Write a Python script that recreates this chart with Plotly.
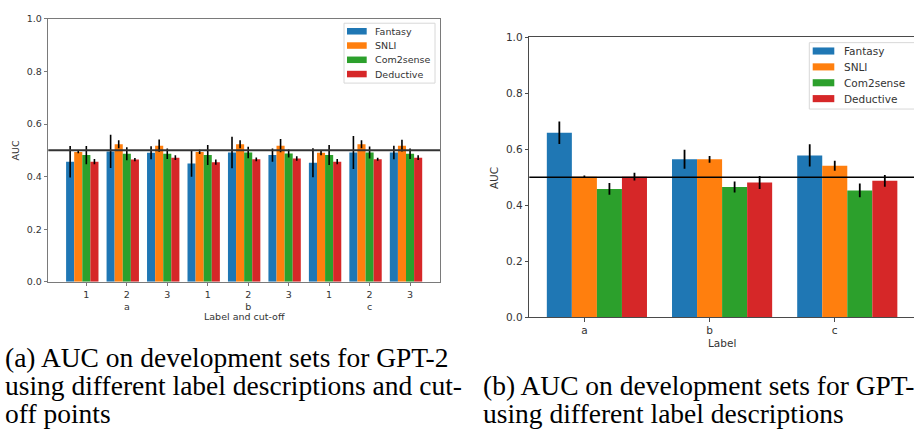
import plotly.graph_objects as go

# ---- data -------------------------------------------------------------
series = ["Fantasy", "SNLI", "Com2sense", "Deductive"]
colors = ["#1f77b4", "#ff7f0e", "#2ca02c", "#d62728"]

label_names = ["a", "b", "c"]
cutoffs = ["1", "2", "3"]

# GPT-2: every label description (a, b, c) crossed with every cut-off (1, 2, 3)
gpt2_fantasy = [0.457, 0.496, 0.491, 0.450, 0.492, 0.482, 0.453, 0.492, 0.492]
gpt2_fantasy_err = [0.060, 0.063, 0.025, 0.050, 0.060, 0.025, 0.055, 0.063, 0.026]
gpt2_snli = [0.494, 0.523, 0.518, 0.494, 0.523, 0.518, 0.491, 0.523, 0.518]
gpt2_snli_err = [0.005, 0.015, 0.023, 0.008, 0.015, 0.025, 0.010, 0.015, 0.022]
gpt2_com2sense = [0.482, 0.487, 0.487, 0.482, 0.492, 0.488, 0.482, 0.492, 0.487]
gpt2_com2sense_err = [0.035, 0.025, 0.020, 0.038, 0.022, 0.015, 0.038, 0.023, 0.020]
gpt2_deductive = [0.457, 0.465, 0.472, 0.455, 0.466, 0.469, 0.457, 0.466, 0.472]
gpt2_deductive_err = [0.010, 0.006, 0.009, 0.010, 0.007, 0.009, 0.010, 0.006, 0.009]

# GPT-3: one value per label description
gpt3_fantasy = [0.659, 0.564, 0.578]
gpt3_fantasy_err = [0.040, 0.034, 0.040]
gpt3_snli = [0.502, 0.564, 0.541]
gpt3_snli_err = [0.004, 0.012, 0.018]
gpt3_com2sense = [0.458, 0.465, 0.453]
gpt3_com2sense_err = [0.021, 0.020, 0.025]
gpt3_deductive = [0.502, 0.481, 0.487]
gpt3_deductive_err = [0.014, 0.023, 0.021]

chance_level = 0.5

y_ticks = [0.0, 0.2, 0.4, 0.6, 0.8, 1.0]

caption_a = ["(a) AUC on development sets for GPT-2",
             "using different label descriptions and cut-",
             "off points"]
caption_b = ["(b) AUC on development sets for GPT-3",
             "using different label descriptions"]

# ---- layout helpers ---------------------------------------------------
W, H = 914, 430


def px(x):
    return x / W


def py(y):
    return 1 - y / H


SANS = "DejaVu Sans"
SERIF = "Liberation Serif"

gpt2_vals = [gpt2_fantasy, gpt2_snli, gpt2_com2sense, gpt2_deductive]
gpt2_errs = [gpt2_fantasy_err, gpt2_snli_err, gpt2_com2sense_err, gpt2_deductive_err]
gpt3_vals = [gpt3_fantasy, gpt3_snli, gpt3_com2sense, gpt3_deductive]
gpt3_errs = [gpt3_fantasy_err, gpt3_snli_err, gpt3_com2sense_err, gpt3_deductive_err]

gpt2_x = list(range(len(label_names) * len(cutoffs)))
gpt3_x = list(range(len(label_names)))

fig = go.Figure()

for name, col, vals, errs in zip(series, colors, gpt2_vals, gpt2_errs):
    fig.add_trace(go.Bar(
        x=gpt2_x, y=vals, name=name, marker=dict(color=col, line=dict(width=0)),
        error_y=dict(type="data", array=errs, color="black", thickness=1.6, width=0),
        xaxis="x", yaxis="y", showlegend=False, offsetgroup=name,
    ))

for name, col, vals, errs in zip(series, colors, gpt3_vals, gpt3_errs):
    fig.add_trace(go.Bar(
        x=gpt3_x, y=vals, name=name, marker=dict(color=col, line=dict(width=0)),
        error_y=dict(type="data", array=errs, color="black", thickness=1.8, width=0),
        xaxis="x2", yaxis="y2", showlegend=False, offsetgroup=name,
    ))

# tick labels: cut-off under each green bar, label description under the middle cut-off
gpt2_tickvals = [i + 0.1 for i in gpt2_x]
gpt2_ticktext = []
for lab in label_names:
    for c in cutoffs:
        gpt2_ticktext.append(c + ("<br>" + lab if c == cutoffs[len(cutoffs) // 2] else ""))
gpt3_tickvals = [i - 0.1 for i in gpt3_x]

left_axis_col = "#7a7a7a"
right_axis_col = "#4a4a4a"

fig.update_layout(
    width=W, height=H, margin=dict(l=0, r=0, t=0, b=0),
    paper_bgcolor="white", plot_bgcolor="white",
    barmode="group", bargap=0.2, bargroupgap=0,
    showlegend=False,
    xaxis=dict(
        domain=[px(48.3), px(440)], range=[-0.84, 8.84], anchor="y",
        tickvals=gpt2_tickvals, ticktext=gpt2_ticktext,
        showline=True, linecolor=left_axis_col, linewidth=1, mirror=True,
        ticks="outside", ticklen=3.5, tickcolor=left_axis_col,
        showgrid=False, zeroline=False,
        tickfont=dict(family=SANS, size=9.5, color="#333"),
    ),
    yaxis=dict(
        domain=[py(283.7), py(13.3)], range=[0, 1], anchor="x",
        tickvals=y_ticks, tickformat=".1f",
        showline=True, linecolor=left_axis_col, linewidth=1, mirror=True,
        ticks="outside", ticklen=3.5, tickcolor=left_axis_col,
        showgrid=False, zeroline=False,
        tickfont=dict(family=SANS, size=9.5, color="#333"),
    ),
    xaxis2=dict(
        domain=[px(529.3), 1.0], range=[-0.54, 2.533], anchor="y2",
        tickvals=gpt3_tickvals, ticktext=label_names,
        showline=True, linecolor=right_axis_col, linewidth=1.2, mirror=True,
        ticks="outside", ticklen=3.5, tickcolor=right_axis_col,
        showgrid=False, zeroline=False,
        tickfont=dict(family=SANS, size=10.5, color="#333"),
    ),
    yaxis2=dict(
        domain=[py(320), py(32.3)], range=[0, 1], anchor="x2",
        tickvals=y_ticks, tickformat=".1f",
        showline=True, linecolor=right_axis_col, linewidth=1.2, mirror=False,
        ticks="outside", ticklen=3.5, tickcolor=right_axis_col,
        showgrid=False, zeroline=False,
        tickfont=dict(family=SANS, size=10.5, color="#333"),
    ),
)

shapes = []
annotations = []

# chance-level reference lines
shapes.append(dict(type="line", xref="x domain", yref="y", x0=0, x1=1,
                   y0=chance_level, y1=chance_level,
                   line=dict(color="#333", width=2)))
shapes.append(dict(type="line", xref="x2 domain", yref="y2", x0=0, x1=1,
                   y0=chance_level, y1=chance_level,
                   line=dict(color="black", width=1.6)))


def add_legend(box, patch_x, text_x, y0, dy, ph, fsize):
    x0, y_top, x1, y_bot = box
    shapes.append(dict(type="rect", xref="paper", yref="paper",
                       x0=px(x0), x1=px(x1), y0=py(y_bot), y1=py(y_top),
                       line=dict(color="#d8d8d8", width=1), fillcolor="rgba(255,255,255,0.85)"))
    for i, (name, col) in enumerate(zip(series, colors)):
        yc = y0 + i * dy
        shapes.append(dict(type="rect", xref="paper", yref="paper",
                           x0=px(patch_x[0]), x1=px(patch_x[1]),
                           y0=py(yc + ph / 2), y1=py(yc - ph / 2),
                           line=dict(width=0), fillcolor=col))
        annotations.append(dict(xref="paper", yref="paper", x=px(text_x), y=py(yc),
                                xanchor="left", yanchor="middle", showarrow=False,
                                text=name, font=dict(family=SANS, size=fsize, color="#333")))


add_legend((344, 17.7, 435, 79.3), (347, 366.7), 372.5, 26, 14.67, 6.7, 9.5)
add_legend((809.3, 37.7, 916, 106), (812.7, 834.3), 841.5, 46.3, 16.33, 7.3, 10.5)

# axis titles
annotations += [
    dict(xref="paper", yref="paper", x=px(15.7), y=py(149), text="AUC", textangle=-90,
         showarrow=False, xanchor="center", yanchor="middle",
         font=dict(family=SANS, size=9.5, color="#333")),
    dict(xref="paper", yref="paper", x=px(244), y=py(319), text="Label and cut-off",
         showarrow=False, xanchor="center", yanchor="middle",
         font=dict(family=SANS, size=9.5, color="#333")),
    dict(xref="paper", yref="paper", x=px(493.3), y=py(176.7), text="AUC", textangle=-90,
         showarrow=False, xanchor="center", yanchor="middle",
         font=dict(family=SANS, size=10.5, color="#333")),
    dict(xref="paper", yref="paper", x=px(722.3), y=py(346.7), text="Label",
         showarrow=False, xanchor="center", yanchor="middle",
         font=dict(family=SANS, size=10.5, color="#333")),
]

# sub-figure captions
for i, line in enumerate(caption_a):
    annotations.append(dict(xref="paper", yref="paper", x=px(3), y=py(362 + i * 28.5),
                            text=line, showarrow=False, xanchor="left", yanchor="middle",
                            font=dict(family=SERIF, size=27.5, color="black")))
for i, line in enumerate(caption_b):
    annotations.append(dict(xref="paper", yref="paper", x=px(481), y=py(390.5 + i * 28.6),
                            text=line, showarrow=False, xanchor="left", yanchor="middle",
                            font=dict(family=SERIF, size=27.5, color="black")))

fig.update_layout(shapes=shapes, annotations=annotations)

fig.write_html("out.html")
